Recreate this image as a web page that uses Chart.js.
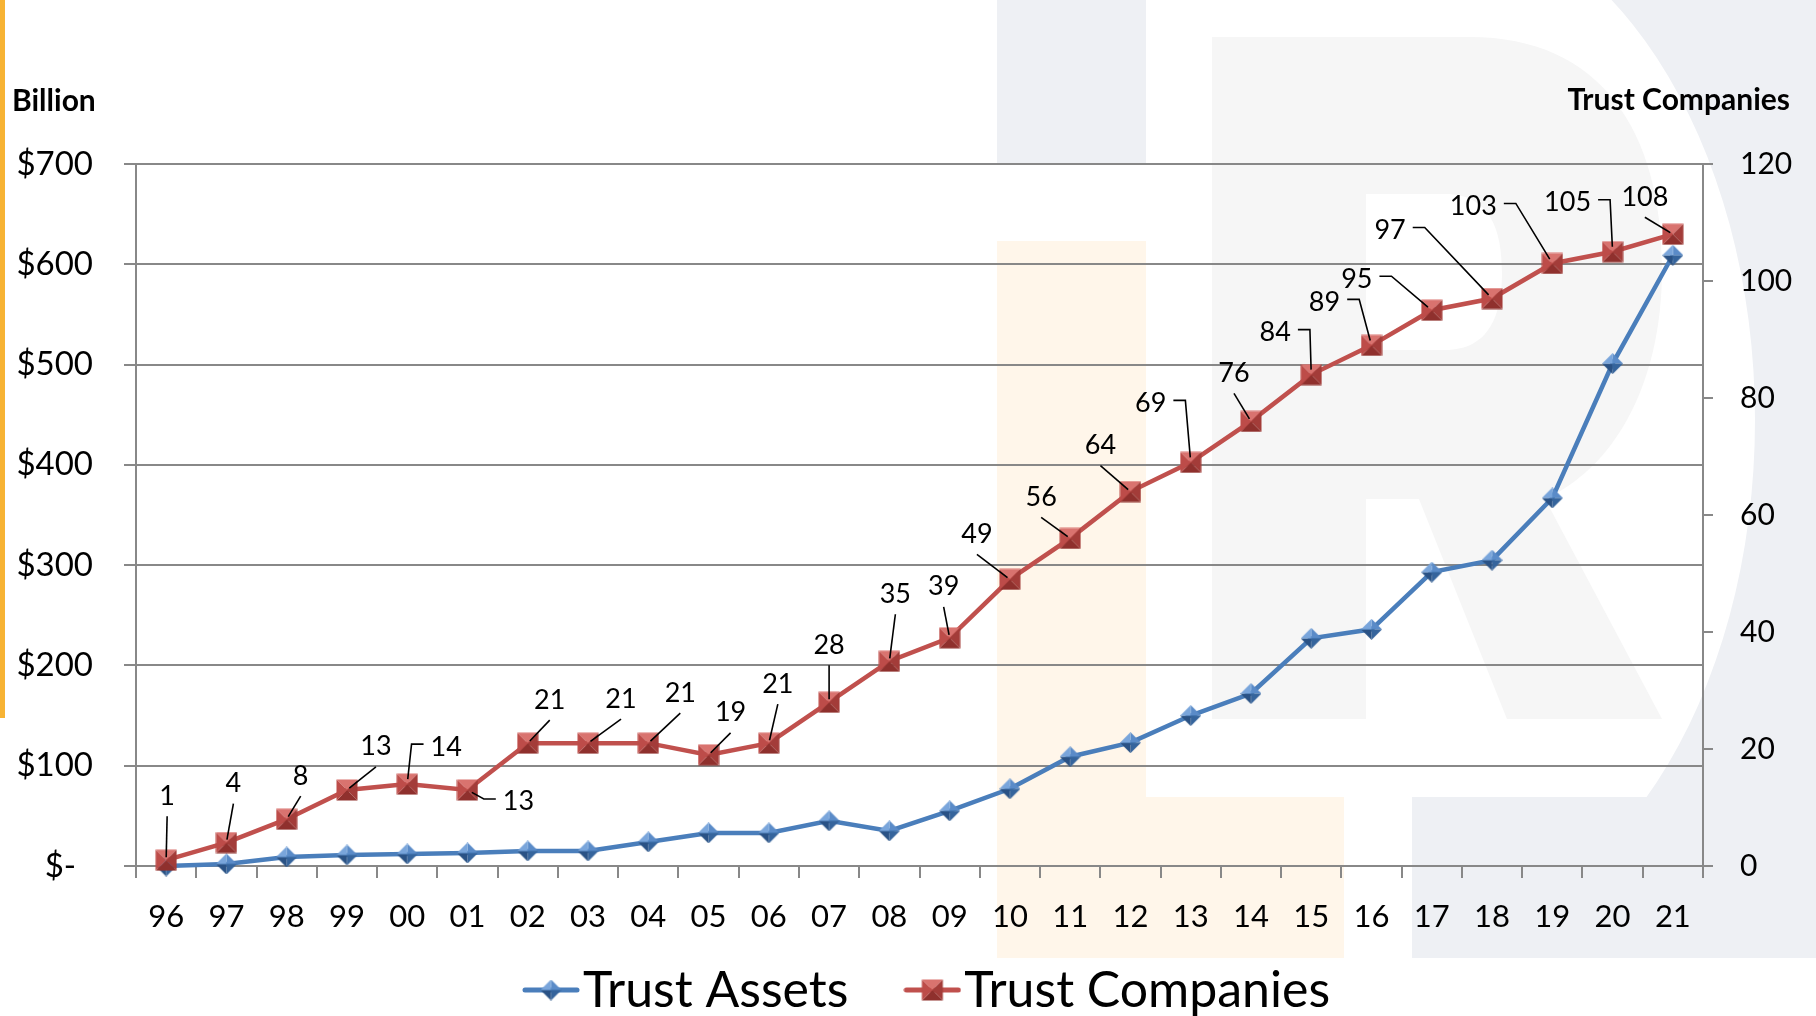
<!DOCTYPE html>
<html>
<head>
<meta charset="utf-8">
<title>Trust Assets and Trust Companies</title>
<script src="https://cdn.jsdelivr.net/npm/chart.js@4.4.1/dist/chart.umd.min.js"></script>
<style>
  html, body { margin: 0; padding: 0; background: #fff; }
  #wrap { width: 1816px; height: 1016px; }
</style>
</head>
<body>
<div id="wrap"><canvas id="trustChart" width="1816" height="1016"></canvas></div>
<script>
// --- data ---
const years = ['96', '97', '98', '99', '00', '01', '02', '03', '04', '05', '06', '07', '08',
               '09', '10', '11', '12', '13', '14', '15', '16', '17', '18', '19', '20', '21'];
const trustAssets = [0, 2, 9, 11, 12, 13, 15, 15, 24, 33, 33, 45, 35, 55, 77, 109, 123, 150,
                     172, 227, 236, 293, 305, 367, 501, 609];
const trustCompanies = [1, 4, 8, 13, 14, 13, 21, 21, 21, 19, 21, 28, 35, 39, 49, 56, 64, 69,
                        76, 84, 89, 95, 97, 103, 105, 108];
const assetTicks = [0, 100, 200, 300, 400, 500, 600, 700];
const companyTicks = [0, 20, 40, 60, 80, 100, 120];

// where each company label sits relative to its point (px)
const labelOffsets = [[1, -65], [7, -60], [14, -44], [29, -44], [39, -38], [51, 11], [22, -44],
    [33, -45], [32, -51], [22, -43], [9, -60], [0, -58], [6, -68], [-6, -52], [-33, -46],
    [-29, -42], [-30, -47], [-40, -60], [-17, -49], [-36, -43], [-47, -44], [-75, -32],
    [-102, -69], [-79, -58], [-45, -50], [-28, -38]];

const BLUE = '#4a7ebb';
const RED = '#c0504d';
const GRID = '#888888';
const FONT = "Lato, 'Open Sans', sans-serif";

// bevelled markers like the excel ones
function makeMarker(kind, size, light, mid, dark, edge) {
    const c = document.createElement('canvas');
    c.width = size; c.height = size;
    const g = c.getContext('2d');
    const h = size / 2;
    let pts;
    if (kind === 'diamond') pts = [[h, 0], [size, h], [h, size], [0, h]];
    else pts = [[0.5, 0.5], [size - 0.5, 0.5], [size - 0.5, size - 0.5], [0.5, size - 0.5]];
    const shades = kind === 'diamond' ? [mid, dark, edge, light] : [light, dark, edge, mid];
    for (let k = 0; k < 4; k++) {
        const a = pts[k], b = pts[(k + 1) % 4];
        g.beginPath();
        g.moveTo(h, h); g.lineTo(a[0], a[1]); g.lineTo(b[0], b[1]); g.closePath();
        g.fillStyle = shades[k];
        g.fill();
    }
    return c;
}

function makeLegendIcon(marker, color) {
    const c = document.createElement('canvas');
    c.width = 58; c.height = 26;
    const g = c.getContext('2d');
    g.strokeStyle = color; g.lineWidth = 5; g.lineCap = 'round';
    g.beginPath(); g.moveTo(3, 13); g.lineTo(55, 13); g.stroke();
    g.drawImage(marker, 29 - marker.width / 2, 13 - marker.height / 2);
    return c;
}

const diamond = makeMarker('diamond', 21, '#79a5db', '#5a8bc8', '#35649c', '#2a5285');
const square = makeMarker('square', 22, '#d9736f', '#bd4c49', '#a33c39', '#8f302d');

// --- background logo watermark + left accent bar ---
const watermark = {
    id: 'watermark',
    beforeDraw(chart) {
        const ctx = chart.ctx;
        ctx.save();
        ctx.fillStyle = '#fff';
        ctx.fillRect(0, 0, chart.width, chart.height);

        // big "D" ring on the right
        ctx.fillStyle = '#eef0f4';
        ctx.save();
        ctx.beginPath();
        ctx.rect(1420, 0, 400, 958);
        ctx.clip();
        ctx.beginPath();
        ctx.rect(1420, 0, 400, 958);
        ctx.ellipse(1420, 420, 335, 512, 0, 0, Math.PI * 2);
        ctx.fill('evenodd');
        ctx.restore();
        ctx.fillRect(1412, 797, 404, 161);
        ctx.fillRect(997, 0, 149, 165);

        // orange "L"
        ctx.fillStyle = '#fff6ea';
        ctx.fillRect(997, 241, 149, 717);
        ctx.fillRect(1146, 797, 198, 161);

        // grey "R"
        ctx.fillStyle = '#f6f6f6';
        ctx.beginPath();
        ctx.moveTo(1212, 37);
        ctx.lineTo(1470, 37);
        ctx.bezierCurveTo(1600, 37, 1662, 130, 1662, 269);
        ctx.bezierCurveTo(1662, 390, 1610, 470, 1545, 499);
        ctx.lineTo(1662, 719);
        ctx.lineTo(1507, 719);
        ctx.lineTo(1419, 499);
        ctx.lineTo(1366, 499);
        ctx.lineTo(1366, 719);
        ctx.lineTo(1212, 719);
        ctx.closePath();
        ctx.moveTo(1366, 194);
        ctx.lineTo(1445, 194);
        ctx.bezierCurveTo(1490, 194, 1502, 230, 1502, 272);
        ctx.bezierCurveTo(1502, 314, 1490, 350, 1445, 350);
        ctx.lineTo(1366, 350);
        ctx.closePath();
        ctx.fill('evenodd');

        ctx.fillStyle = '#f7b334';
        ctx.fillRect(0, 0, 5, 718);
        ctx.restore();
    }
};

// --- number labels with leader lines on the Trust Companies series ---
const companyLabels = {
    id: 'companyLabels',
    afterDatasetsDraw(chart) {
        const meta = chart.getDatasetMeta(1);
        const ctx = chart.ctx;
        ctx.save();
        ctx.font = '27px ' + FONT;
        ctx.fillStyle = '#000';
        ctx.strokeStyle = '#000';
        ctx.lineWidth = 1.6;
        ctx.textAlign = 'center';
        meta.data.forEach(function(pt, i) {
            const dx = labelOffsets[i][0], dy = labelOffsets[i][1];
            const text = String(trustCompanies[i]);
            const w = ctx.measureText(text).width;
            const tx = pt.x + dx, ty = pt.y + dy;
            ctx.fillText(text, tx, ty + 9.5);

            let sx, sy, gap;
            ctx.beginPath();
            if (Math.abs(dx) > w / 2 + 19.5) {
                const dir = dx > 0 ? -1 : 1;
                sx = tx + dir * (w / 2 + 7);
                sy = ty - 2;
                ctx.moveTo(sx, sy);
                sx += dir * 12;
                ctx.lineTo(sx, sy);
                gap = 5;
            } else {
                sx = tx; sy = ty + 21;
                ctx.moveTo(sx, sy);
                gap = 3;
            }
            const vx = pt.x - sx, vy = pt.y - sy;
            const len = Math.hypot(vx, vy) || 1;
            ctx.lineTo(pt.x - vx / len * gap, pt.y - vy / len * gap);
            ctx.stroke();
        });
        ctx.restore();
    }
};

// --- axis captions and the legend row ---
const captions = {
    id: 'captions',
    afterDraw(chart) {
        const ctx = chart.ctx;
        ctx.save();
        ctx.fillStyle = '#000';
        ctx.font = 'bold 30px ' + FONT;
        ctx.textAlign = 'left';
        ctx.fillText('Billion', 12, 111);
        ctx.textAlign = 'right';
        ctx.fillText('Trust Companies', 1790, 110);

        ctx.font = '50px ' + FONT;
        ctx.textAlign = 'left';
        const items = chart.data.datasets.map(function(ds) {
            return { text: ds.label, icon: ds.legendIcon, w: ctx.measureText(ds.label).width };
        });
        let total = 0;
        items.forEach(function(it, i) { total += 58 + 3 + it.w + (i ? 55 : 0); });
        let x = 926 - total / 2;
        items.forEach(function(it) {
            ctx.drawImage(it.icon, x, 990 - it.icon.height / 2);
            ctx.fillText(it.text, x + 61, 1007);
            x += 61 + it.w + 55;
        });
        ctx.restore();
    }
};

Chart.defaults.font.family = FONT;
Chart.defaults.color = '#000';

const ctx = document.getElementById('trustChart').getContext('2d');
new Chart(ctx, {
    type: 'line',
    data: {
        labels: years,
        datasets: [{
            label: 'Trust Assets',
            data: trustAssets,
            yAxisID: 'y',
            borderColor: BLUE,
            backgroundColor: BLUE,
            borderWidth: 4.5,
            tension: 0,
            pointStyle: diamond,
            pointRadius: 10,
            pointHoverRadius: 10,
            clip: false,
            order: 1,
            legendIcon: makeLegendIcon(diamond, BLUE)
        }, {
            label: 'Trust Companies',
            data: trustCompanies,
            yAxisID: 'y1',
            borderColor: RED,
            backgroundColor: RED,
            borderWidth: 4.5,
            tension: 0,
            pointStyle: square,
            pointRadius: 11,
            pointHoverRadius: 11,
            clip: false,
            order: 0,
            legendIcon: makeLegendIcon(square, RED)
        }]
    },
    options: {
        responsive: false,
        animation: false,
        layout: { padding: { top: 164, bottom: 80, left: 0, right: 0 } },
        plugins: {
            legend: { display: false },
            tooltip: { enabled: false }
        },
        scales: {
            x: {
                offset: true,
                grid: { offset: true, drawOnChartArea: false, tickLength: 12, color: GRID, lineWidth: 2 },
                border: { color: GRID, width: 2 },
                ticks: { font: { size: 31 }, padding: 20, maxRotation: 0, autoSkip: false },
                afterFit: function(scale) { scale.height = 70; }
            },
            y: {
                position: 'left',
                min: assetTicks[0],
                max: assetTicks[assetTicks.length - 1],
                afterBuildTicks: function(scale) {
                    scale.ticks = assetTicks.map(function(v) { return { value: v }; });
                },
                grid: { color: GRID, lineWidth: 2, tickLength: 12 },
                border: { color: GRID, width: 2 },
                ticks: {
                    font: { size: 33 },
                    padding: 31,
                    callback: function(value) { return value === 0 ? '$-  ' : '$' + value; }
                },
                afterFit: function(scale) { scale.width = 136; }
            },
            y1: {
                position: 'right',
                min: companyTicks[0],
                max: companyTicks[companyTicks.length - 1],
                afterBuildTicks: function(scale) {
                    scale.ticks = companyTicks.map(function(v) { return { value: v }; });
                },
                grid: { drawOnChartArea: false, color: GRID, lineWidth: 2, tickLength: 10 },
                border: { color: GRID, width: 2 },
                ticks: { font: { size: 30 }, padding: 27 },
                afterFit: function(scale) { scale.width = 113; }
            }
        }
    },
    plugins: [watermark, companyLabels, captions]
});
</script>
</body>
</html>
